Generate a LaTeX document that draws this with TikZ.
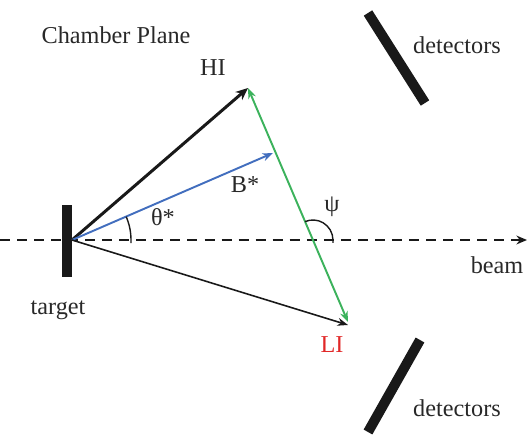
\documentclass[tikz,border=0pt]{standalone}
\usepackage{fontspec}
\setmainfont{Liberation Serif}
\newfontfamily\labelfont{Liberation Serif}
\usepackage{tikz}
\usetikzlibrary{arrows.meta,positioning,calc}
\definecolor{vecblue}{RGB}{66,110,190}
\definecolor{vecgreen}{RGB}{60,178,92}
\definecolor{txtgray}{RGB}{40,40,40}
\definecolor{lired}{RGB}{225,40,40}
\tikzset{
  lbl/.style    = {font=\labelfont\fontsize{13.8}{16}\selectfont, text=txtgray, inner sep=0pt},
  bar/.style    = {line width=5.7pt, draw=black!90},
  hiarr/.style  = {-{Stealth[length=7pt,width=6pt]}, line width=1.7pt, draw=black!90},
  barr/.style   = {-{Stealth[length=6pt,width=4.5pt]}, line width=1.1pt, draw=vecblue},
  liarr/.style  = {-{Stealth[length=6pt,width=4.5pt]}, line width=0.9pt, draw=black!90},
  darr/.style   = {{Stealth[length=6pt,width=4.5pt]}-{Stealth[length=6pt,width=4.5pt]},
                   line width=1.1pt, draw=vecgreen},
  beamarr/.style= {-{Stealth[length=6pt,width=5pt]}, line width=1.7pt,
                   dash pattern=on 5.7pt off 4pt, draw=black!90},
  angarc/.style = {line width=0.8pt, draw=black!90},
}

\begin{document}
\begin{tikzpicture}[x=0.02cm, y=0.02cm]
\useasboundingbox (0,0) rectangle (528,437);

%% Points
\coordinate (o)       at (72,197);
\coordinate (beamL)   at (0,197);
\coordinate (beamR)   at (527,197);
\coordinate (hiTip)   at (248,349);
\coordinate (bTip)    at (273,284);
\coordinate (liTip)   at (348,112);
\coordinate (liEnd)   at (348,115);
\coordinate (cross)   at (intersection of hiTip--liEnd and beamL--beamR);

%% Target and detectors
\fill[black!90] (62,160) rectangle (72,232);
\coordinate (detTa) at (368,424);
\coordinate (detTb) at (425,334);
\coordinate (detBa) at (420,97);
\coordinate (detBb) at (368,5);
\draw[bar] (detTa) -- (detTb);
\draw[bar] (detBa) -- (detBb);

%% Beam
\draw[beamarr] (beamL) -- (beamR);

%% Vectors
\draw[hiarr] (o) -- (hiTip);
\draw[barr]  (o) -- (bTip);
\draw[liarr] (o) -- (liTip);
\draw[darr]  (liEnd) -- (hiTip);

%% Angles
\draw[angarc] ($(o)+(59,-3)$) -- ($(o)+(59,0)$) arc[start angle=0, end angle=23.3, radius=59];
\draw[angarc] ($(cross)+(20,-3)$) -- ($(cross)+(20,0)$) arc[start angle=0, end angle=113.5, radius=20];

%% Labels
\node[lbl] (title)  at (116,402) {Chamber Plane};
\node[lbl] (hiLbl)  at (213,369) {HI};
\node[lbl] (bLbl)   at (245,252) {B*};
\node[lbl] (thLbl)  at (163,220) {θ*};
\node[lbl] (psiLbl) at (332,230) {ψ};
\node[lbl] (tgtLbl) at (58,127)  {target};
\node[lbl] (beamLbl) at (497,172) {beam};
\node[lbl, text=lired] (liLbl) at (332,92) {LI};
\node[lbl] (detT)   at (457,392) {detectors};
\node[lbl] (detB)   at (457,29)  {detectors};

\end{tikzpicture}
\end{document}
